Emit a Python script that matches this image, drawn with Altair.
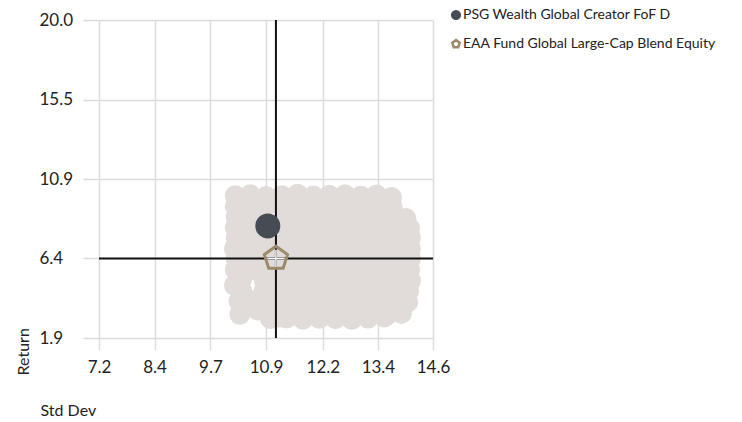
import altair as alt
import pandas as pd

# ---- data ----
x_ticks = [7.2, 8.43, 9.67, 10.9, 12.16, 13.38, 14.6]
y_ticks = [1.9, 6.43, 10.94, 15.47, 20.0]

# peer group cloud (Std Dev, Return)
peer_x = [
    10.22, 10.55, 10.9, 11.25, 11.6, 11.95, 12.3, 12.65, 13.0, 13.35, 13.68,
    10.22, 10.58, 10.92, 11.28, 11.62, 11.98, 12.32, 12.68, 13.02, 13.38, 13.7,
    10.24, 10.6, 11.3, 11.64, 12.0, 12.36, 12.7, 13.04, 13.4, 13.75, 14.0,
    10.22, 10.56, 10.92, 11.28, 11.62, 11.98, 12.34, 12.68, 13.04, 13.38, 13.74, 14.08,
    10.24, 10.6, 10.95, 11.3, 11.66, 12.02, 12.36, 12.72, 13.06, 13.42, 13.76, 14.1,
    10.2, 10.56, 10.9, 11.26, 11.62, 11.96, 12.32, 12.68, 13.02, 13.38, 13.72, 14.1,
    10.24, 10.58, 10.94, 11.3, 11.66, 12.0, 12.36, 12.7, 13.06, 13.4, 13.76, 14.1,
    10.22, 10.58, 10.92, 11.28, 11.62, 11.98, 12.34, 12.68, 13.04, 13.38, 13.74, 14.08,
    10.36, 10.86, 11.3, 11.64, 12.0, 12.36, 12.7, 13.06, 13.4, 13.76, 14.1,
    10.2,
    10.36, 10.86, 11.26, 11.62, 11.98, 12.34, 12.68, 13.04, 13.38, 13.74, 14.06,
    10.3, 10.62, 10.96, 11.3, 11.66, 12.0, 12.36, 12.72, 13.06, 13.42, 13.76, 14.04,
    10.32, 10.72, 11.2, 11.5, 11.84, 12.2, 12.54, 12.88, 13.24, 13.58, 13.9,
    11.0, 11.36, 11.72, 12.08, 12.44, 12.8, 13.16, 13.52,
]
peer_y = [
    10.0, 10.05, 9.95, 10.0, 10.08, 9.98, 10.02, 10.05, 9.97, 10.04, 9.9,
    9.4, 9.35, 9.45, 9.4, 9.38, 9.42, 9.36, 9.44, 9.4, 9.38, 9.3,
    8.8, 8.78, 8.82, 8.8, 8.76, 8.84, 8.8, 8.78, 8.82, 8.75, 8.7,
    8.2, 8.22, 8.18, 8.2, 8.24, 8.16, 8.2, 8.22, 8.18, 8.2, 8.24, 8.15,
    7.6, 7.58, 7.62, 7.6, 7.56, 7.64, 7.6, 7.58, 7.62, 7.6, 7.55, 7.62,
    7.0, 7.02, 6.98, 7.0, 7.04, 6.96, 7.0, 7.02, 6.98, 7.0, 7.04, 7.0,
    6.4, 6.42, 6.38, 6.4, 6.36, 6.44, 6.4, 6.42, 6.38, 6.4, 6.36, 6.42,
    5.8, 5.78, 5.82, 5.8, 5.84, 5.76, 5.8, 5.82, 5.78, 5.8, 5.84, 5.78,
    5.25, 5.2, 5.22, 5.18, 5.2, 5.24, 5.2, 5.18, 5.22, 5.2, 5.16,
    4.9,
    4.6, 4.6, 4.62, 4.6, 4.56, 4.64, 4.6, 4.58, 4.62, 4.6, 4.56,
    4.0, 4.02, 3.98, 4.0, 4.04, 3.96, 4.0, 4.02, 3.98, 4.0, 4.04, 3.94,
    3.25, 3.5, 3.1, 3.3, 3.25, 3.2, 3.3, 3.22, 3.28, 3.2, 3.3,
    3.0, 3.05, 2.98, 3.02, 3.0, 2.96, 3.04, 3.1,
]

series_names = ["PSG Wealth Global Creator FoF D", "EAA Fund Global Large-Cap Blend Equity"]
series_x = [10.94, 11.12]
series_y = [8.28, 6.43]
series_fill = ["#464b54", "transparent"]
series_stroke = ["#464b54", "#9c8b6a"]
series_size = [484, 600]
PENTAGON = "M0,-1L0.951,-0.309L0.588,0.809L-0.588,0.809L-0.951,-0.309Z"
series_shape = ["circle", PENTAGON]

peers = pd.DataFrame({"x": peer_x, "y": peer_y})
series = pd.DataFrame({"name": series_names, "x": series_x, "y": series_y})
fund = series.iloc[[0]]
cat = series.iloc[[1]]

FONT = "Lato"
GRID = "#dcdcdc"
TXT = "#222222"

xscale = alt.Scale(domain=[7.2, 14.6], nice=False, zero=False)
yscale = alt.Scale(domain=[1.9, 20.0], nice=False, zero=False)

xaxis = alt.Axis(
    values=x_ticks, format=".1f", grid=True, gridColor=GRID, gridWidth=1.5,
    domain=False, ticks=True, tickSize=12, tickColor=GRID, tickWidth=1.5,
    labelFont=FONT, labelFontSize=17, labelColor=TXT, labelPadding=9,
    labelFlush=False, labelOverlap=False,
    title="Std Dev", titleFont=FONT, titleFontSize=16, titleFontWeight="normal",
    titleColor=TXT, titleX=-59, titleY=77, titleAlign="left", titleBaseline="alphabetic",
)
yaxis = alt.Axis(
    values=y_ticks, format=".1f", grid=True, gridColor=GRID, gridWidth=1.5,
    domain=False, ticks=True, tickSize=16, tickColor=GRID, tickWidth=1.5,
    labelFont=FONT, labelFontSize=17, labelColor=TXT, labelPadding=44,
    labelAlign="left", labelBaseline="middle", labelFlush=False, labelOverlap=False,
    title="Return", titleFont=FONT, titleFontSize=16, titleFontWeight="normal",
    titleColor=TXT, titleAngle=270, titleX=-71, titleY=355, titleAlign="left",
    titleBaseline="alphabetic",
)

cloud = alt.Chart(peers).mark_circle(size=440, color="#e1dcda", opacity=1).encode(
    x=alt.X("x:Q", scale=xscale, axis=xaxis),
    y=alt.Y("y:Q", scale=yscale, axis=yaxis),
)

vrule = alt.Chart(cat).mark_rule(color="#111111", strokeWidth=2).encode(
    x=alt.X("x:Q", scale=xscale)
)
hrule = alt.Chart(cat).mark_rule(color="#111111", strokeWidth=2).encode(
    y=alt.Y("y:Q", scale=yscale)
)

leg = alt.Legend(
    title=None, orient="none", legendX=350, legendY=-12, padding=0,
    symbolSize=60, symbolStrokeWidth=2.5, labelFont=FONT, labelFontSize=14,
    labelColor=TXT, rowPadding=11, labelOffset=0, labelLimit=600,
)

shape_enc = alt.Shape("name:N", scale=alt.Scale(domain=series_names, range=series_shape), legend=leg)
fill_enc = alt.Fill("name:N", scale=alt.Scale(domain=series_names, range=series_fill), legend=leg)
stroke_enc = alt.Stroke("name:N", scale=alt.Scale(domain=series_names, range=series_stroke), legend=leg)


def series_layer(df, size):
    return alt.Chart(df).mark_point(size=size, strokeWidth=3, opacity=1).encode(
        x=alt.X("x:Q", scale=xscale),
        y=alt.Y("y:Q", scale=yscale),
        shape=shape_enc, fill=fill_enc, stroke=stroke_enc,
    )


pts_fund = series_layer(fund, series_size[0])
pts_cat = series_layer(cat, series_size[1])

cross = alt.Chart(cat).mark_point(
    shape="M-1,0L1,0M0,-1L0,1", size=300, stroke="white", strokeWidth=1.5, filled=False, opacity=1
).encode(x=alt.X("x:Q", scale=xscale), y=alt.Y("y:Q", scale=yscale))

chart = alt.layer(cloud, vrule, hrule, pts_fund, pts_cat, cross).properties(
    width=334, height=318,
    autosize=alt.AutoSizeParams(type="none"),
    padding={"left": 91, "top": 12, "right": 301, "bottom": 80},
).configure_view(stroke=None)

chart.save("out.html", embed_options={"renderer": "svg", "actions": False})
